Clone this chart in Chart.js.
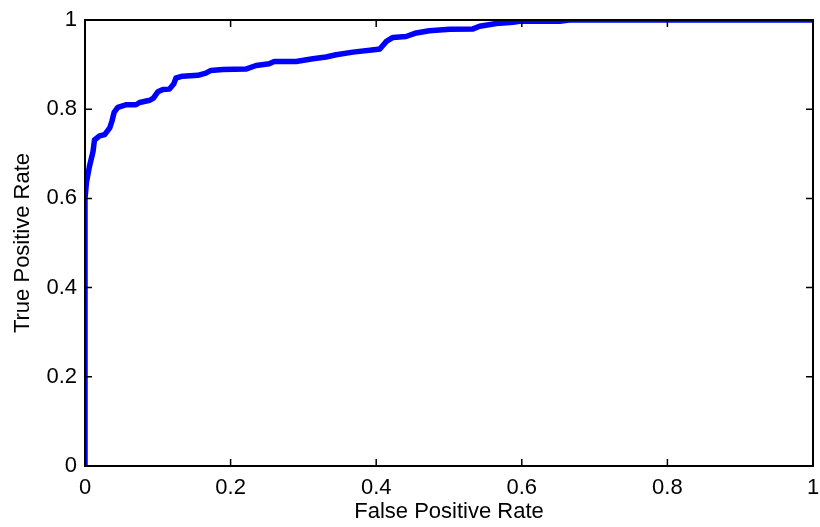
<!DOCTYPE html>
<html>
<head>
<meta charset="utf-8">
<script src="https://cdn.jsdelivr.net/npm/chart.js@4/dist/chart.umd.min.js"></script>
<style>
html,body{margin:0;padding:0;background:#fff;}
#wrap{width:820px;height:527px;position:relative;}
</style>
</head>
<body>
<div id="wrap"><canvas id="c"></canvas></div>
<script>
const fpr = [0, 0, 0.002, 0.006, 0.011, 0.013, 0.020, 0.027, 0.034, 0.037, 0.040, 0.045, 0.057, 0.070, 0.075, 0.089, 0.094, 0.100, 0.107, 0.116, 0.122, 0.125, 0.134, 0.155, 0.166, 0.173, 0.189, 0.221, 0.235, 0.253, 0.260, 0.290, 0.313, 0.331, 0.345, 0.368, 0.400, 0.405, 0.414, 0.423, 0.441, 0.455, 0.473, 0.501, 0.533, 0.542, 0.565, 0.588, 0.597, 0.652, 0.665, 1.0];
const tpr = [0, 0.600, 0.636, 0.671, 0.705, 0.731, 0.740, 0.743, 0.758, 0.773, 0.793, 0.804, 0.810, 0.810, 0.815, 0.820, 0.825, 0.839, 0.844, 0.845, 0.857, 0.870, 0.874, 0.876, 0.881, 0.887, 0.889, 0.890, 0.898, 0.902, 0.907, 0.907, 0.913, 0.917, 0.922, 0.928, 0.934, 0.935, 0.952, 0.961, 0.963, 0.971, 0.976, 0.979, 0.980, 0.986, 0.992, 0.995, 0.997, 0.997, 1.0, 1.0];
const tickValues = [0, 0.2, 0.4, 0.6, 0.8, 1];
const tickLabels = ['0', '0.2', '0.4', '0.6', '0.8', '1'];
const xTitle = 'False Positive Rate';
const yTitle = 'True Positive Rate';

const points = fpr.map((x, i) => ({x: x, y: tpr[i]}));
const FONT = "'Liberation Sans', Arial, Helvetica, sans-serif";
const labelFor = v => { const i = tickValues.findIndex(t => Math.abs(t - v) < 1e-9); return i >= 0 ? tickLabels[i] : ''; };

const boxPlugin = {
  id: 'box',
  afterDraw(chart) {
    const {ctx, chartArea: a, scales} = chart;
    const L = 7;
    ctx.save();
    ctx.strokeStyle = '#000';
    ctx.lineWidth = 1.5;
    ctx.beginPath();
    tickValues.forEach(v => {
      if (v === 0 || v === 1) return;
      const px = scales.x.getPixelForValue(v);
      ctx.moveTo(px, a.bottom); ctx.lineTo(px, a.bottom - L);
      ctx.moveTo(px, a.top); ctx.lineTo(px, a.top + L);
      const py = scales.y.getPixelForValue(v);
      ctx.moveTo(a.left, py); ctx.lineTo(a.left + L, py);
      ctx.moveTo(a.right, py); ctx.lineTo(a.right - L, py);
    });
    ctx.stroke();
    ctx.lineWidth = 2;
    ctx.strokeRect(a.left, a.top, a.right - a.left, a.bottom - a.top);
    ctx.restore();
  }
};

new Chart(document.getElementById('c'), {
  type: 'scatter',
  data: {
    datasets: [{
      data: points,
      showLine: true,
      borderColor: '#0000ff',
      backgroundColor: '#0000ff',
      borderWidth: 5.5,
      pointRadius: 0,
      tension: 0,
      borderJoinStyle: 'round',
      borderCapStyle: 'round',
      clip: 0
    }]
  },
  options: {
    responsive: true,
    maintainAspectRatio: false,
    animation: false,
    layout: {autoPadding: false, padding: {top: 20, right: 7, left: 0, bottom: 0}},
    plugins: {legend: {display: false}, tooltip: {enabled: false}},
    scales: {
      x: {
        type: 'linear', min: 0, max: 1,
        afterBuildTicks: s => { s.ticks = tickValues.map(v => ({value: v})); },
        grid: {display: false, drawTicks: false},
        border: {display: false},
        ticks: {color: '#000', font: {family: FONT, size: 22}, padding: 9, maxRotation: 0, callback: v => labelFor(v)},
        title: {display: true, text: xTitle, color: '#000', font: {family: FONT, size: 22}, padding: {top: 0, bottom: 2}},
        afterFit: s => { s.height = 61; s.paddingLeft = 0; s.paddingRight = 0; }
      },
      y: {
        type: 'linear', min: 0, max: 1,
        afterBuildTicks: s => { s.ticks = tickValues.map(v => ({value: v})); },
        grid: {display: false, drawTicks: false},
        border: {display: false},
        ticks: {color: '#000', font: {family: FONT, size: 22}, padding: 8, callback: v => labelFor(v)},
        title: {display: true, text: yTitle, color: '#000', font: {family: FONT, size: 22}, padding: {top: 10, bottom: 0}},
        afterFit: s => { s.width = 85; s.paddingTop = 0; s.paddingBottom = 0; }
      }
    }
  },
  plugins: [boxPlugin]
});
</script>
</body>
</html>
